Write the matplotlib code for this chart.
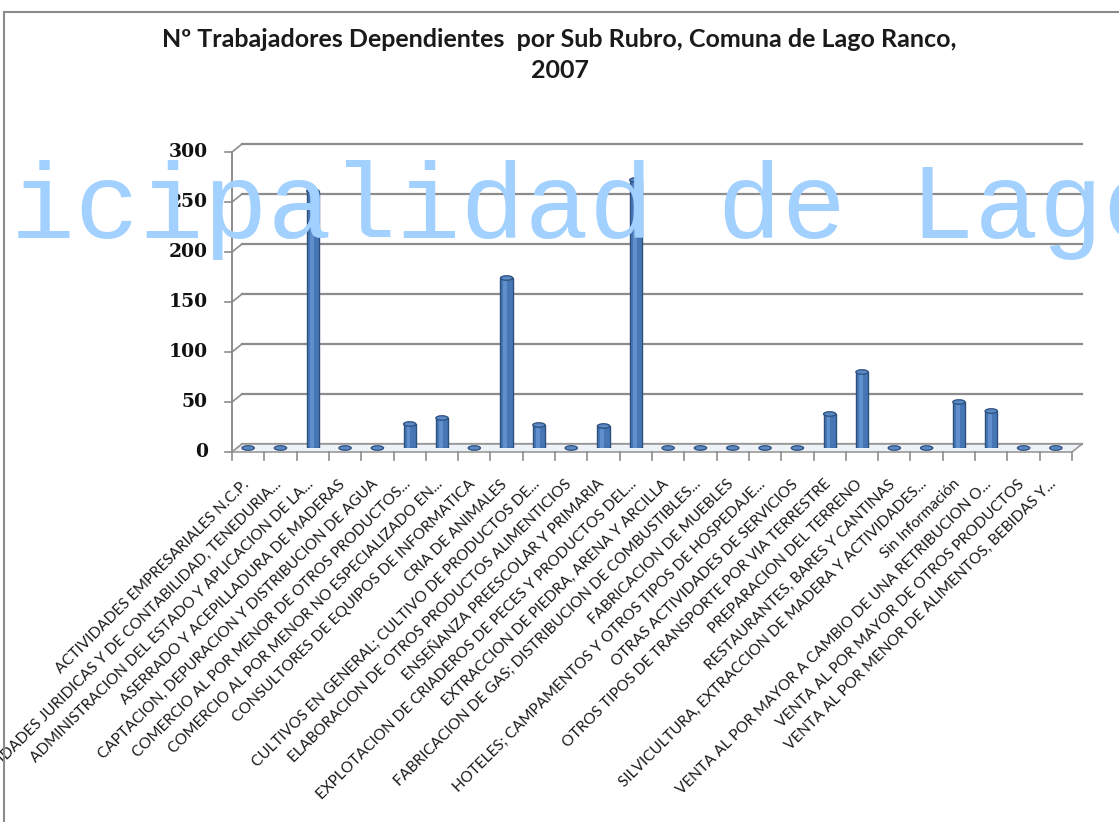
import numpy as np
import matplotlib
matplotlib.use("Agg")
import matplotlib.pyplot as plt
from matplotlib.patches import Ellipse, Polygon
from matplotlib.transforms import ScaledTranslation, Bbox, TransformedBbox
from matplotlib.lines import Line2D

# data
categories = [
    'ACTIVIDADES EMPRESARIALES N.C.P.',
    'ACTIVIDADES JURIDICAS Y DE CONTABILIDAD, TENEDURIA...',
    'ADMINISTRACION DEL ESTADO Y APLICACION DE LA...',
    'ASERRADO Y ACEPILLADURA DE MADERAS',
    'CAPTACION, DEPURACION Y DISTRIBUCION DE AGUA',
    'COMERCIO AL POR MENOR DE OTROS PRODUCTOS...',
    'COMERCIO AL POR MENOR NO ESPECIALIZADO EN...',
    'CONSULTORES DE EQUIPOS DE INFORMATICA',
    'CRIA DE ANIMALES',
    'CULTIVOS EN GENERAL; CULTIVO DE PRODUCTOS DE...',
    'ELABORACION DE OTROS PRODUCTOS ALIMENTICIOS',
    'ENSEÑANZA PREESCOLAR Y PRIMARIA',
    'EXPLOTACION DE CRIADEROS DE PECES Y PRODUCTOS DEL...',
    'EXTRACCION DE PIEDRA, ARENA Y ARCILLA',
    'FABRICACION DE GAS; DISTRIBUCION DE COMBUSTIBLES...',
    'FABRICACION DE MUEBLES',
    'HOTELES; CAMPAMENTOS Y OTROS TIPOS DE HOSPEDAJE...',
    'OTRAS ACTIVIDADES DE SERVICIOS',
    'OTROS TIPOS DE TRANSPORTE POR VIA TERRESTRE',
    'PREPARACION DEL TERRENO',
    'RESTAURANTES, BARES Y CANTINAS',
    'SILVICULTURA, EXTRACCION DE MADERA Y ACTIVIDADES...',
    'Sin Información',
    'VENTA AL POR MAYOR A CAMBIO DE UNA RETRIBUCION O...',
    'VENTA AL POR MAYOR DE OTROS PRODUCTOS',
    'VENTA AL POR MENOR DE ALIMENTOS, BEBIDAS Y...',
]
trabajadores = [0, 0, 257, 0, 0, 24, 30, 0, 170, 23, 0, 22, 268,
                0, 0, 0, 0, 0, 34, 76, 0, 0, 46, 37, 0, 0]
yticks = [0, 50, 100, 150, 200, 250, 300]

title = "Nº Trabajadores Dependientes  por Sub Rubro, Comuna de Lago Ranco,\n2007"
watermark = "Municipalidad de Lago Ranco"

W, H = 1119, 822
fig = plt.figure(figsize=(W / 100, H / 100), dpi=100)
ax = fig.add_axes([232 / W, 1 - 448 / H, 840 / W, 300 / H])

n = len(categories)
x = np.arange(n)
ax.set_xlim(-0.5, n - 0.5)
ax.set_ylim(0, 300)
for s in ax.spines.values():
    s.set_visible(False)
ax.set_xticks([])
ax.set_yticks([])
ax.patch.set_alpha(0)

grid_col = '#8c8c8c'
# depth offsets (pseudo 3d)
back = ax.transData + ScaledTranslation(0.10, 0.04, fig.dpi_scale_trans)
front = ax.transData + ScaledTranslation(0, -0.04, fig.dpi_scale_trans)

# floor
floor = Polygon([(-0.5, -4), (n - 0.5, -4), (n - 0.5 + 0.31, 4), (-0.5 + 0.31, 4)],
                closed=True, facecolor='#eef2f7', edgecolor='#9a9a9a', lw=1.2,
                transform=ax.transData, clip_on=False, zorder=1)
ax.add_patch(floor)

# back wall gridlines, left wall
for v in yticks:
    ax.plot([-0.5, n - 0.5], [v, v], color=grid_col, lw=1.6, transform=back,
            clip_on=False, zorder=0)
    ax.add_line(Line2D([-0.5, -0.5 + 0.31], [v - 4, v + 4], color=grid_col, lw=1.2,
                       transform=ax.transData, clip_on=False, zorder=0))
    ax.plot([-0.5 - 0.22, -0.5], [v, v], color=grid_col, lw=1.2, transform=front,
            clip_on=False)
    ax.text(-0.5 - 0.75, v, str(v), transform=front, ha='right', va='center',
            fontsize=13.5, fontweight='bold', family='DejaVu Serif', color='#111111')
ax.plot([-0.5, -0.5], [0, 300], color=grid_col, lw=1.4, transform=front, clip_on=False)

# x ticks at category boundaries
for b in np.arange(n + 1) - 0.5:
    ax.plot([b, b], [0, -8], color=grid_col, lw=1.2, transform=front, clip_on=False)

# bars
bw = 0.38
ax.bar(x, trabajadores, width=bw, color='#4677b4', edgecolor='#2c4f7e', lw=1.0, zorder=3)
ax.bar(x - bw * 0.1, trabajadores, width=bw * 0.32, color='#5f8fcc', lw=0, zorder=3.5)
for xi, v in zip(x, trabajadores):
    ax.add_patch(Ellipse((xi, v), bw, 4.5, facecolor='#5a89c5', edgecolor='#2c4f7e',
                         lw=0.9, zorder=4, clip_on=False))

# category labels
for xi, lab in zip(x, categories):
    ax.text(xi - 0.05, -34, lab, rotation=45, rotation_mode='anchor', ha='right',
            va='center', fontsize=11, family='Lato', color='#1a1a1a',
            transform=ax.transData)

fig.text(0.5, 1 - 55 / H, title, ha='center', va='center', fontsize=18,
         fontweight='bold', family='Lato', linespacing=1.45, color='#1a1a1a')

# outer frame
fig.add_artist(Line2D([4 / W, 4 / W], [0, 1 - 12 / H], color='#8c8c8c', lw=1.5))
fig.add_artist(Line2D([4 / W, 1], [1 - 12 / H, 1 - 12 / H], color='#8c8c8c', lw=1.5))

# watermark, clipped to the chart frame
wm = fig.text(-182 / W, 1 - 238 / H, watermark, ha='left', va='baseline', fontsize=77,
              family='Liberation Mono', color='#a3d1ff', zorder=10)
wm.set_clip_box(TransformedBbox(Bbox([[12 / W, 0], [1, 1]]), fig.transFigure))
wm.set_clip_on(True)

fig.savefig('out.png', dpi=100)
